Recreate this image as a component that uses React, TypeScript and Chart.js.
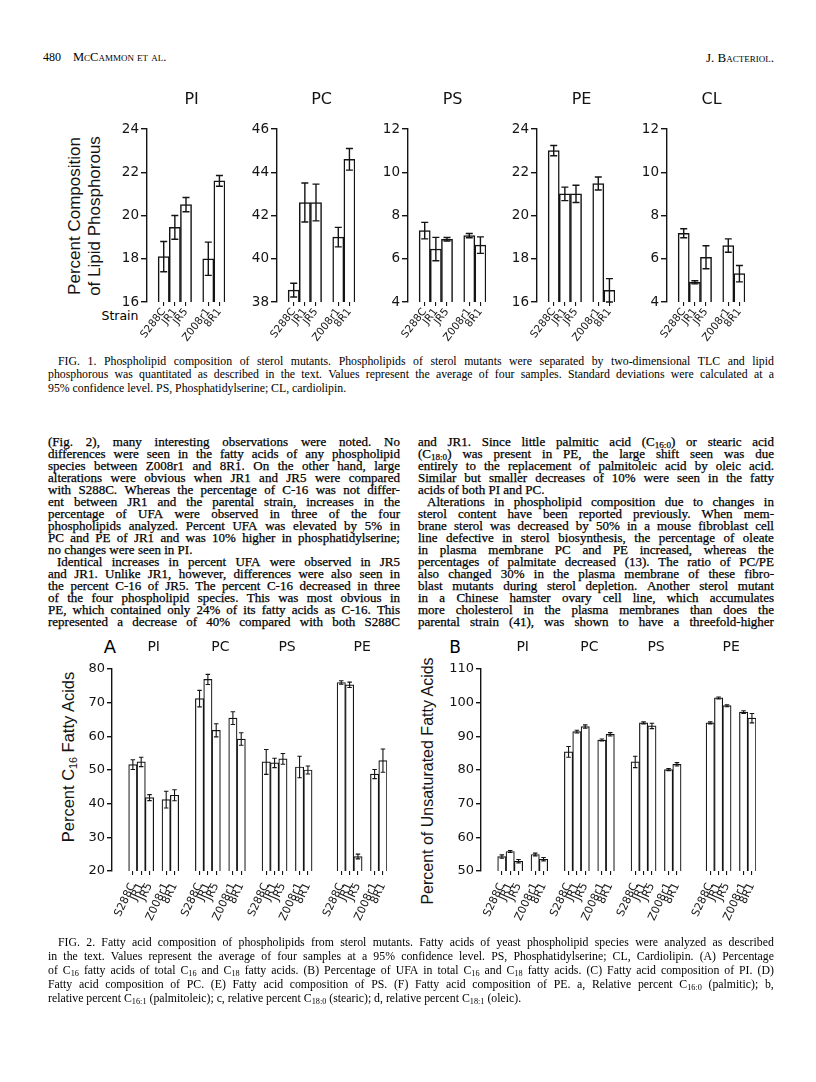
import React, { useEffect, useLayoutEffect, useRef } from 'react';
import { Chart, registerables } from 'chart.js';

Chart.register(...registerables);

const INK = '#141414';
const SANS = '"DejaVu Sans", "Liberation Sans", sans-serif';
const HELV = '"Liberation Sans", Arial, sans-serif';
const SERIF = '"Liberation Serif", "Times New Roman", serif';

// ---------- data ----------
const strains = ['S288C', 'JR1', 'JR5', 'Z008r1', '8R1'];

// Fig. 1: percent composition of lipid phosphorous (value, +/- error)
const fig1Lipids = ['PI', 'PC', 'PS', 'PE', 'CL'];
const lipPI = [18.1, 19.45, 20.5, 18.0, 21.6];
const lipPIErr = [0.7, 0.55, 0.33, 0.77, 0.25];
const lipPC = [38.55, 42.6, 42.6, 41.0, 44.6];
const lipPCErr = [0.32, 0.9, 0.85, 0.45, 0.5];
const lipPS = [7.3, 6.45, 6.9, 7.07, 6.63];
const lipPSErr = [0.38, 0.54, 0.08, 0.1, 0.38];
const lipPE = [23.0, 21.0, 21.0, 21.48, 16.54];
const lipPEErr = [0.24, 0.31, 0.4, 0.3, 0.54];
const lipCL = [7.18, 4.91, 6.07, 6.61, 5.31];
const lipCLErr = [0.21, 0.07, 0.53, 0.31, 0.38];
const fig1Min = [16, 38, 4, 16, 4];
const fig1Max = [24, 46, 12, 24, 12];
const fig1Step = 2;

// Fig. 2A: percent C16 fatty acids
const fig2Lipids = ['PI', 'PC', 'PS', 'PE'];
const c16PI = [51.6, 52.4, 41.8, 41.2, 42.5];
const c16PIErr = [1.45, 1.4, 0.9, 2.5, 1.65];
const c16PC = [71.2, 76.9, 61.8, 65.4, 59.2];
const c16PCErr = [2.45, 1.5, 1.95, 1.9, 1.85];
const c16PS = [52.4, 52.1, 53.3, 50.9, 50.0];
const c16PSErr = [3.7, 1.4, 1.6, 3.2, 1.2];
const c16PE = [76.0, 75.3, 24.3, 48.8, 52.8];
const c16PEErr = [0.5, 0.8, 0.7, 1.35, 3.45];
const c16Min = 20;
const c16Max = 80;

// Fig. 2B: percent of unsaturated fatty acids
const ufaPI = [54.3, 55.8, 52.9, 54.9, 53.5];
const ufaPIErr = [0.5, 0.3, 0.5, 0.4, 0.5];
const ufaPC = [85.4, 91.4, 92.9, 88.9, 90.6];
const ufaPCErr = [1.6, 0.4, 0.5, 0.3, 0.5];
const ufaPS = [82.4, 94.0, 93.1, 80.1, 81.7];
const ufaPSErr = [1.7, 0.3, 0.8, 0.3, 0.5];
const ufaPE = [94.0, 101.4, 99.1, 97.2, 95.4];
const ufaPEErr = [0.3, 0.3, 0.3, 0.4, 1.4];
const ufaMin = 50;
const ufaMax = 110;
const fig2Step = 10;

// ---------- text ----------
type TL = { t: string; last?: boolean; indent?: boolean };
const leftCol: TL[] = [
  { t: '(Fig. 2), many interesting observations were noted. No' },
  { t: 'differences were seen in the fatty acids of any phospholipid' },
  { t: 'species between Z008r1 and 8R1. On the other hand, large' },
  { t: 'alterations were obvious when JR1 and JR5 were compared' },
  { t: 'with S288C. Whereas the percentage of C-16 was not differ-' },
  { t: 'ent between JR1 and the parental strain, increases in the' },
  { t: 'percentage of UFA were observed in three of the four' },
  { t: 'phospholipids analyzed. Percent UFA was elevated by 5% in' },
  { t: 'PC and PE of JR1 and was 10% higher in phosphatidylserine;' },
  { t: 'no changes were seen in PI.', last: true },
  { t: 'Identical increases in percent UFA were observed in JR5', indent: true },
  { t: 'and JR1. Unlike JR1, however, differences were also seen in' },
  { t: 'the percent C-16 of JR5. The percent C-16 decreased in three' },
  { t: 'of the four phospholipid species. This was most obvious in' },
  { t: 'PE, which contained only 24% of its fatty acids as C-16. This' },
  { t: 'represented a decrease of 40% compared with both S288C' },
];
const rightCol: TL[] = [
  { t: 'and JR1. Since little palmitic acid (C_{16:0}) or stearic acid' },
  { t: '(C_{18:0}) was present in PE, the large shift seen was due' },
  { t: 'entirely to the replacement of palmitoleic acid by oleic acid.' },
  { t: 'Similar but smaller decreases of 10% were seen in the fatty' },
  { t: 'acids of both PI and PC.', last: true },
  { t: 'Alterations in phospholipid composition due to changes in', indent: true },
  { t: 'sterol content have been reported previously. When mem-' },
  { t: 'brane sterol was decreased by 50% in a mouse fibroblast cell' },
  { t: 'line defective in sterol biosynthesis, the percentage of oleate' },
  { t: 'in plasma membrane PC and PE increased, whereas the' },
  { t: 'percentages of palmitate decreased (13). The ratio of PC/PE' },
  { t: 'also changed 30% in the plasma membrane of these fibro-' },
  { t: 'blast mutants during sterol depletion. Another sterol mutant' },
  { t: 'in a Chinese hamster ovary cell line, which accumulates' },
  { t: 'more cholesterol in the plasma membranes than does the' },
  { t: 'parental strain (41), was shown to have a threefold-higher' },
];
const cap1: TL[] = [
  { t: 'FIG. 1. Phospholipid composition of sterol mutants. Phospholipids of sterol mutants were separated by two-dimensional TLC and lipid', indent: true },
  { t: 'phosphorous was quantitated as described in the text. Values represent the average of four samples. Standard deviations were calculated at a' },
  { t: '95% confidence level. PS, Phosphatidylserine; CL, cardiolipin.', last: true },
];
const cap2: TL[] = [
  { t: 'FIG. 2. Fatty acid composition of phospholipids from sterol mutants. Fatty acids of yeast phospholipid species were analyzed as described', indent: true },
  { t: 'in the text. Values represent the average of four samples at a 95% confidence level. PS, Phosphatidylserine; CL, Cardiolipin. (A) Percentage' },
  { t: 'of C_{16} fatty acids of total C_{16} and C_{18} fatty acids. (B) Percentage of UFA in total C_{16} and C_{18} fatty acids. (C) Fatty acid composition of PI. (D)' },
  { t: 'Fatty acid composition of PC. (E) Fatty acid composition of PS. (F) Fatty acid composition of PE. a, Relative percent C_{16:0} (palmitic); b,' },
  { t: 'relative percent C_{16:1} (palmitoleic); c, relative percent C_{18:0} (stearic); d, relative percent C_{18:1} (oleic).', last: true },
];

// ---------- helpers ----------
function rich(text: string, key = 0): React.ReactNode[] {
  const parts = text.split(/(_\{[^}]*\})/);
  return parts.map((p, i) => {
    if (p.startsWith('_{')) {
      return (
        <span key={key + '-' + i} style={{ fontSize: '0.7em', position: 'relative', top: '0.3em' }}>
          {p.slice(2, -1)}
        </span>
      );
    }
    return <React.Fragment key={key + '-' + i}>{p}</React.Fragment>;
  });
}

function TextLine(props: { x: number; y: number; w: number; line: TL; size: number; family: string; indentPx: number; stroke?: number }) {
  const { x, y, w, line, size, family, indentPx, stroke } = props;
  const ref = useRef<HTMLDivElement>(null);
  const ind = line.indent ? indentPx : 0;
  useLayoutEffect(() => {
    const el = ref.current;
    if (!el) return;
    let s = size;
    let guard = 0;
    while (el.scrollWidth > el.clientWidth + 0.5 && guard < 60) {
      s -= 0.1;
      el.style.fontSize = s + 'px';
      guard++;
    }
  }, []);
  const base: React.CSSProperties = {
    position: 'absolute',
    left: x + ind,
    top: y - size * 0.72,
    width: w - ind,
    height: size * 1.2,
    lineHeight: `${size * 1.2}px`,
    fontSize: size,
    fontFamily: family,
    color: '#000',
    whiteSpace: 'nowrap',
    overflow: 'visible',
    WebkitTextStroke: stroke ? `${stroke}px #000` : undefined,
  };
  if (line.last)
    return (
      <div ref={ref} style={base}>
        {rich(line.t)}
      </div>
    );
  const words = line.t.split(' ');
  return (
    <div ref={ref} style={{ ...base, display: 'flex', justifyContent: 'space-between' }}>
      {words.map((wd, i) => (
        <span key={i} style={{ flex: 'none' }}>
          {rich(wd, i)}
        </span>
      ))}
    </div>
  );
}

function Block(props: { lines: TL[]; x: number; y0: number; dy: number; w: number; size: number; family: string; indentPx: number; stroke?: number }) {
  return (
    <>
      {props.lines.map((l, i) => (
        <TextLine
          key={i}
          x={props.x}
          y={props.y0 + i * props.dy}
          w={props.w}
          line={l}
          size={props.size}
          family={props.family}
          indentPx={props.indentPx}
          stroke={props.stroke}
        />
      ))}
    </>
  );
}

type Built = {
  labels: string[];
  values: (number | null)[];
  errs: (number | null)[];
  groups: { text: string; start: number; end: number }[];
};

function buildSlots(lipids: string[], vals: number[][], errs: number[][], lead: number[]): Built {
  const labels: string[] = [];
  const values: (number | null)[] = [];
  const e: (number | null)[] = [];
  const groups: { text: string; start: number; end: number }[] = [];
  const gap = () => {
    labels.push('');
    values.push(null);
    e.push(null);
  };
  lipids.forEach((lip, gi) => {
    for (let k = 0; k < lead[gi]; k++) gap();
    const start = labels.length;
    strains.forEach((s, si) => {
      if (si === 3) gap();
      labels.push(s);
      values.push(vals[gi][si]);
      e.push(errs[gi][si]);
    });
    groups.push({ text: lip, start, end: labels.length - 1 });
  });
  return { labels, values, errs: e, groups };
}

type PanelProps = {
  left: number;
  top: number;
  width: number;
  height: number;
  built: Built;
  min: number;
  max: number;
  step: number;
  yWidth: number;
  xHeight: number;
  padTop: number;
  padRight: number;
  yFont: number;
  xFont: number;
  xPad: number;
  rot: number;
  cap: number;
  lw: number;
  barLw: number;
  titleFont: string;
  titleOffset: number;
  tickLen: number;
};

function BarPanel(p: PanelProps) {
  const ref = useRef<HTMLCanvasElement>(null);
  useEffect(() => {
    const b = p.built;
    const errPlugin = {
      id: 'errbars',
      afterDatasetsDraw(chart: any) {
        const meta = chart.getDatasetMeta(0);
        const ys = chart.scales.y;
        const ctx = chart.ctx;
        ctx.save();
        ctx.strokeStyle = INK;
        ctx.lineWidth = p.lw;
        meta.data.forEach((el: any, i: number) => {
          const v = b.values[i];
          const er = b.errs[i];
          if (v == null || er == null) return;
          const x = el.x;
          const yt = ys.getPixelForValue(v + er);
          const yb = ys.getPixelForValue(v - er);
          ctx.beginPath();
          ctx.moveTo(x, yt);
          ctx.lineTo(x, yb);
          ctx.moveTo(x - p.cap / 2, yt);
          ctx.lineTo(x + p.cap / 2, yt);
          ctx.moveTo(x - p.cap / 2, yb);
          ctx.lineTo(x + p.cap / 2, yb);
          ctx.stroke();
        });
        ctx.restore();
      },
    };
    const titlePlugin = {
      id: 'grouptitles',
      afterDraw(chart: any) {
        const xs = chart.scales.x;
        const ctx = chart.ctx;
        ctx.save();
        ctx.fillStyle = INK;
        ctx.font = p.titleFont;
        ctx.textAlign = 'center';
        ctx.textBaseline = 'middle';
        b.groups.forEach((g) => {
          const cx = (xs.getPixelForValue(g.start) + xs.getPixelForValue(g.end)) / 2;
          ctx.fillText(g.text, cx, chart.chartArea.top - p.titleOffset);
        });
        ctx.restore();
      },
    };
    const chart = new Chart(ref.current as HTMLCanvasElement, {
      type: 'bar',
      data: {
        labels: b.labels,
        datasets: [
          {
            data: b.values as any,
            backgroundColor: '#ffffff',
            borderColor: INK,
            borderWidth: p.barLw,
            borderSkipped: false,
            barPercentage: 1,
            categoryPercentage: 1,
          },
        ],
      },
      options: {
        animation: false,
        responsive: false,
        maintainAspectRatio: false,
        events: [],
        layout: { padding: { top: p.padTop, right: p.padRight, left: 0, bottom: 0 } },
        plugins: { legend: { display: false }, tooltip: { enabled: false }, title: { display: false } },
        scales: {
          x: {
            type: 'category',
            offset: true,
            grid: {
              offset: false,
              drawOnChartArea: false,
              drawTicks: true,
              tickLength: 4,
              lineWidth: 1.1,
              color: (c: any) => (c.tick && c.tick.label !== '' ? INK : 'rgba(0,0,0,0)'),
            },
            border: { display: false },
            ticks: {
              autoSkip: false,
              maxRotation: p.rot,
              minRotation: p.rot,
              padding: p.xPad,
              color: INK,
              font: { family: SANS, size: p.xFont },
            },
            afterFit: (s: any) => {
              s.height = p.xHeight;
            },
          } as any,
          y: {
            min: p.min,
            max: p.max,
            grid: { drawOnChartArea: false, drawTicks: true, tickLength: p.tickLen, color: INK, lineWidth: 1.4 },
            border: { display: true, color: INK, width: 1.4 },
            ticks: { stepSize: p.step, padding: 2, color: INK, font: { family: SANS, size: p.yFont } },
            afterFit: (s: any) => {
              s.width = p.yWidth;
            },
          } as any,
        },
      },
      plugins: [errPlugin, titlePlugin],
    });
    return () => chart.destroy();
  }, []);
  return (
    <canvas
      ref={ref}
      width={p.width}
      height={p.height}
      style={{ position: 'absolute', left: p.left, top: p.top, width: p.width, height: p.height }}
    />
  );
}

function Rotated(props: { cx: number; cy: number; size: number; family: string; children: React.ReactNode; lh?: number }) {
  return (
    <div
      style={{
        position: 'absolute',
        left: props.cx,
        top: props.cy,
        transform: 'translate(-50%, -50%) rotate(-90deg)',
        whiteSpace: 'nowrap',
        fontSize: props.size,
        lineHeight: `${props.lh || props.size * 1.2}px`,
        fontFamily: props.family,
        color: INK,
        textAlign: 'center',
      }}
    >
      {props.children}
    </div>
  );
}

function Label(props: { x: number; y: number; size: number; family: string; text: React.ReactNode; anchor?: 'left' | 'center' | 'right'; variant?: string }) {
  const a = props.anchor || 'left';
  const tx = a === 'left' ? '0' : a === 'center' ? '-50%' : '-100%';
  return (
    <div
      style={{
        position: 'absolute',
        left: props.x,
        top: props.y,
        transform: `translate(${tx}, -50%)`,
        whiteSpace: 'nowrap',
        fontSize: props.size,
        fontFamily: props.family,
        color: '#000',
        lineHeight: 1,
        fontVariant: (props.variant as any) || 'normal',
      }}
    >
      {props.text}
    </div>
  );
}

// ---------- layout ----------
const F1_TOP = 129;
const F1_BOTTOM = 302;
const F1_AXES = [147, 277, 408, 537, 667];
const F1_SLOT = 11.1;
const F2_TOP = 669;
const F2_BOTTOM = 871;
const F2_AXIS_A = 112;
const F2_AXIS_B = 481;
const F2_WIDTH = 283;
const F2_LEAD = [2, 2, 2, 3];

export default function App() {
  const f1Vals = [lipPI, lipPC, lipPS, lipPE, lipCL];
  const f1Errs = [lipPIErr, lipPCErr, lipPSErr, lipPEErr, lipCLErr];
  const builtA = buildSlots(fig2Lipids, [c16PI, c16PC, c16PS, c16PE], [c16PIErr, c16PCErr, c16PSErr, c16PEErr], F2_LEAD);
  const builtB = buildSlots(fig2Lipids, [ufaPI, ufaPC, ufaPS, ufaPE], [ufaPIErr, ufaPCErr, ufaPSErr, ufaPEErr], F2_LEAD);

  const f1PadTop = 40;
  const f1YW = 45;
  const f1XH = 52;
  const f1PadR = 8;
  const f1W = Math.round(f1YW + F1_SLOT * 7 + f1PadR);
  const f1H = f1PadTop + (F1_BOTTOM - F1_TOP) + f1XH;

  const f2PadTop = 32;
  const f2YW = 40;
  const f2XH = 75;
  const f2PadR = 6;
  const f2W = f2YW + F2_WIDTH + f2PadR;
  const f2H = f2PadTop + (F2_BOTTOM - F2_TOP) + f2XH;

  return (
    <div style={{ position: 'absolute', left: 0, top: 0, width: 816, height: 1082, background: '#fff', overflow: 'hidden' }}>
      {/* running head */}
      <Label x={43} y={57} size={12} family={SERIF} text="480" />
      <Label x={73} y={57} size={12.5} family={SERIF} variant="small-caps" text="McCammon et al." />
      <Label x={774} y={57} size={13} family={SERIF} anchor="right" variant="small-caps" text="J. Bacteriol." />

      {/* Figure 1 */}
      <Rotated cx={85} cy={216} size={17} family={HELV} lh={20}>
        Percent Composition
        <br />
        of Lipid Phosphorous
      </Rotated>
      <Label x={120} y={316} size={12.5} family={SANS} anchor="center" text="Strain" />
      {fig1Lipids.map((lip, i) => (
        <BarPanel
          key={lip}
          left={F1_AXES[i] - f1YW}
          top={F1_TOP - f1PadTop}
          width={f1W}
          height={f1H}
          built={buildSlots([lip], [f1Vals[i]], [f1Errs[i]], [1])}
          min={fig1Min[i]}
          max={fig1Max[i]}
          step={fig1Step}
          yWidth={f1YW}
          xHeight={f1XH}
          padTop={f1PadTop}
          padRight={f1PadR}
          yFont={13.5}
          xFont={10.5}
          xPad={0}
          rot={52}
          cap={7}
          lw={1.4}
          barLw={1.5}
          titleFont={`16px ${SANS}`}
          titleOffset={29}
          tickLen={6}
        />
      ))}
      <Block lines={cap1} x={48} y0={362} dy={13.5} w={726} size={11.8} family={SERIF} indentPx={10} />

      {/* body text */}
      <Block lines={leftCol} x={48} y0={443} dy={12.0} w={352} size={13} family={SERIF} indentPx={9} stroke={0.25} />
      <Block lines={rightCol} x={418} y0={443} dy={12.0} w={356} size={13} family={SERIF} indentPx={9} stroke={0.25} />

      {/* Figure 2 A */}
      <Label x={110} y={647} size={18} family={SANS} anchor="center" text="A" />
      <Rotated cx={70} cy={757} size={16.5} family={HELV}>
        <>Percent C<span style={{ fontSize: '0.65em', position: 'relative', top: '0.3em' }}>16</span> Fatty Acids</>
      </Rotated>
      <BarPanel
        left={F2_AXIS_A - f2YW}
        top={F2_TOP - f2PadTop}
        width={f2W}
        height={f2H}
        built={builtA}
        min={c16Min}
        max={c16Max}
        step={fig2Step}
        yWidth={f2YW}
        xHeight={f2XH}
        padTop={f2PadTop}
        padRight={f2PadR}
        yFont={13}
        xFont={11}
        xPad={6}
        rot={65}
        cap={4.5}
        lw={1.1}
        barLw={1.2}
        titleFont={`14px ${SANS}`}
        titleOffset={22}
        tickLen={5}
      />

      {/* Figure 2 B */}
      <Label x={455} y={647} size={17} family={SANS} anchor="center" text="B" />
      <Rotated cx={428} cy={781} size={16} family={HELV}>
        Percent of Unsaturated Fatty Acids
      </Rotated>
      <BarPanel
        left={F2_AXIS_B - f2YW}
        top={F2_TOP - f2PadTop}
        width={f2W}
        height={f2H}
        built={builtB}
        min={ufaMin}
        max={ufaMax}
        step={fig2Step}
        yWidth={f2YW}
        xHeight={f2XH}
        padTop={f2PadTop}
        padRight={f2PadR}
        yFont={13}
        xFont={11}
        xPad={6}
        rot={65}
        cap={4.5}
        lw={1.1}
        barLw={1.2}
        titleFont={`14px ${SANS}`}
        titleOffset={22}
        tickLen={5}
      />
      <Block lines={cap2} x={48} y0={943} dy={14} w={726} size={11.8} family={SERIF} indentPx={10} />
    </div>
  );
}
